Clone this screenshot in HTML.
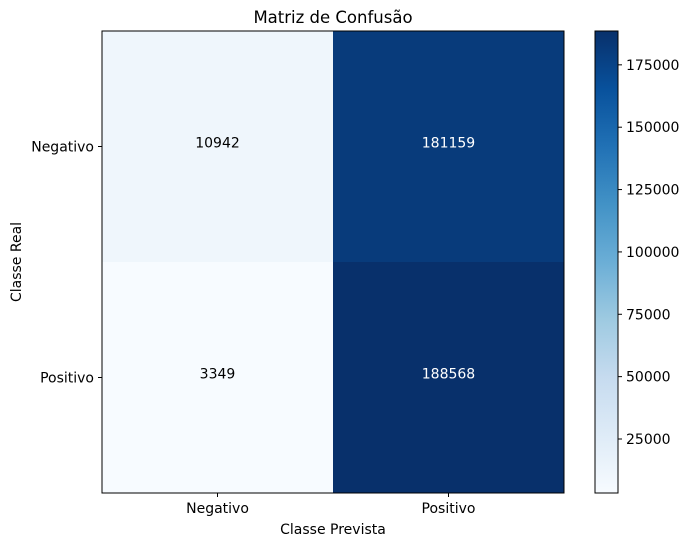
<!DOCTYPE html>
<html><head><meta charset="utf-8"><style>
body{margin:0;background:#fff}
svg{display:block;font-family:"DejaVu Sans","Liberation Sans",sans-serif}
</style></head><body>
<svg id="chart" width="685" height="541" viewBox="0 0 685 541" xmlns="http://www.w3.org/2000/svg">
<defs>
<linearGradient id="blues" x1="0" y1="1" x2="0" y2="0">
<stop offset="0" stop-color="#f7fbff"/><stop offset="0.125" stop-color="#deebf7"/><stop offset="0.25" stop-color="#c6dbef"/><stop offset="0.375" stop-color="#9ecae1"/><stop offset="0.5" stop-color="#6baed6"/><stop offset="0.625" stop-color="#4292c6"/><stop offset="0.75" stop-color="#2171b5"/><stop offset="0.875" stop-color="#08519c"/><stop offset="1" stop-color="#08306b"/>
</linearGradient>
</defs>
<text x="333" y="23" text-anchor="middle" font-size="16.5">Matriz de Confusão</text>
<g id="cells"></g>
<rect x="102" y="31" width="462" height="462" fill="none" stroke="#000" stroke-width="1"/>
<g id="axes"></g>
<text x="333" y="534" text-anchor="middle" font-size="14">Classe Prevista</text>
<text transform="translate(21,262) rotate(-90)" text-anchor="middle" font-size="14">Classe Real</text>
<rect x="595" y="31" width="23" height="462" fill="url(#blues)" stroke="#000" stroke-width="1"/>
<g id="cbticks"></g>
</svg>
<script>
const categories = ["Negativo", "Positivo"];
const rowNegativo = [10942, 181159];
const rowPositivo = [3349, 188568];
const cbTicks = [25000, 50000, 75000, 100000, 125000, 150000, 175000];

const matrix = [rowNegativo, rowPositivo];
const NS = "http://www.w3.org/2000/svg";
const all = matrix.flat();
const vmin = Math.min(...all), vmax = Math.max(...all);
const X0 = 102, Y0 = 31, W = 462, H = 462, n = categories.length, cs = W / n;
const xPos = i => X0 + cs * (i + 0.5);
const yPos = i => Y0 + cs * (i + 0.5);
const cbY = v => Y0 + H - (v - vmin) / (vmax - vmin) * H;
const stops = [[247,251,255],[222,235,247],[198,219,239],[158,202,225],[107,174,214],[66,146,198],[33,113,181],[8,81,156],[8,48,107]];
function blues(t){t=Math.max(0,Math.min(1,t))*8;const i=Math.min(7,Math.floor(t)),f=t-i;const a=stops[i],b=stops[i+1];return `rgb(${a.map((c,k)=>Math.round(c+(b[k]-c)*f)).join(",")})`;}
function mk(tag, attrs, parent){const e=document.createElementNS(NS,tag);for(const k in attrs)e.setAttribute(k,attrs[k]);parent.appendChild(e);return e;}
const cells = document.getElementById("cells");
matrix.forEach((row, r) => row.forEach((v, c) => {
  const t = (v - vmin) / (vmax - vmin);
  const rect = mk("rect", {x: X0 + c*cs, y: Y0 + r*cs, width: cs, height: cs, fill: blues(t)}, cells);
  
  
  const tx = mk("text", {x: xPos(c), y: yPos(r) + 1, "text-anchor": "middle", "font-size": 14, fill: v > (vmax + vmin) / 2 ? "#fff" : "#000"}, cells);
  tx.textContent = v;
  
  
}));
const axes = document.getElementById("axes");
categories.forEach((c, i) => {
  const tl = mk("line", {x1: xPos(i), x2: xPos(i), y1: Y0+H, y2: Y0+H+4, stroke: "#000"}, axes);
  
  
  const xl = mk("text", {x: xPos(i), y: Y0+H+20, "text-anchor": "middle", "font-size": 14}, axes);
  xl.textContent = c;
  
  
  const yt = mk("line", {x1: X0-4, x2: X0, y1: yPos(i), y2: yPos(i), stroke: "#000"}, axes);
  
  
  const yl = mk("text", {x: X0-8, y: yPos(i)+5, "text-anchor": "end", "font-size": 14}, axes);
  yl.textContent = c;
  
  
});
const cbg = document.getElementById("cbticks");
cbTicks.forEach(v => {
  const y = cbY(v);
  const l = mk("line", {x1: 618, x2: 622, y1: y, y2: y, stroke: "#000"}, cbg);
  
  
  const t = mk("text", {x: 626, y: y+5, "font-size": 14}, cbg);
  t.textContent = v;
  
  
});
</script>
</body></html>
